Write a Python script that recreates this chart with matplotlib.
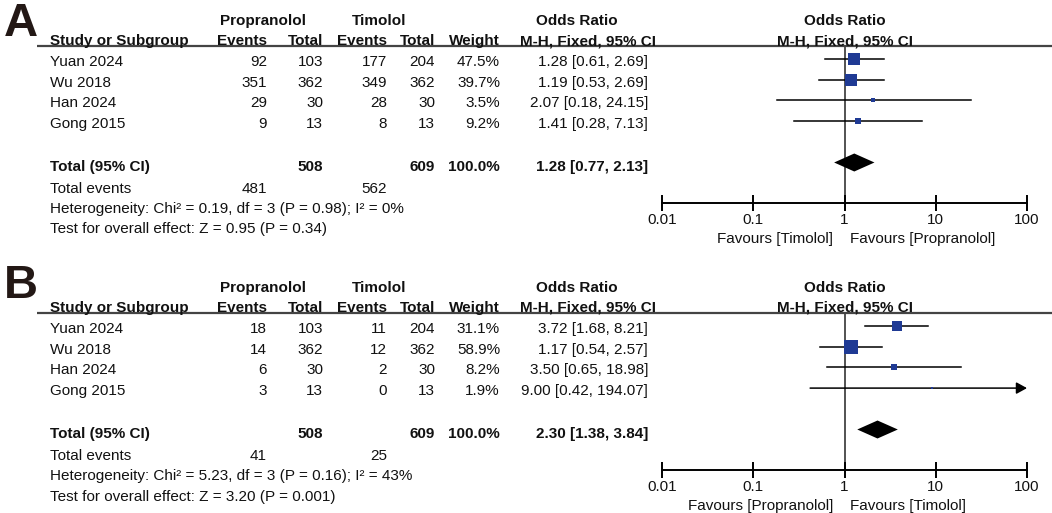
import numpy as np
import matplotlib
matplotlib.use("Agg")
from matplotlib import pyplot as plt

plt.rcParams['font.family'] = ['Liberation Sans', 'DejaVu Sans']

# ---- data ----
studies = ['Yuan 2024', 'Wu 2018', 'Han 2024', 'Gong 2015']
prop_total = [103, 362, 30, 13]
tim_total = [204, 362, 30, 13]

# panel A
a_prop_events = [92, 351, 29, 9]
a_tim_events = [177, 349, 28, 8]
a_weight = [47.5, 39.7, 3.5, 9.2]
a_or = [1.28, 1.19, 2.07, 1.41]
a_lo = [0.61, 0.53, 0.18, 0.28]
a_hi = [2.69, 2.69, 24.15, 7.13]
a_total = (1.28, 0.77, 2.13)
a_total_weight = 100.0
a_events = (481, 562)
a_het = 'Heterogeneity: Chi² = 0.19, df = 3 (P = 0.98); I² = 0%'
a_test = 'Test for overall effect: Z = 0.95 (P = 0.34)'
a_favours = ('Favours [Timolol]', 'Favours [Propranolol]')

# panel B
b_prop_events = [18, 14, 6, 3]
b_tim_events = [11, 12, 2, 0]
b_weight = [31.1, 58.9, 8.2, 1.9]
b_or = [3.72, 1.17, 3.50, 9.00]
b_lo = [1.68, 0.54, 0.65, 0.42]
b_hi = [8.21, 2.57, 18.98, 194.07]
b_total = (2.30, 1.38, 3.84)
b_total_weight = 100.0
b_events = (41, 25)
b_het = 'Heterogeneity: Chi² = 5.23, df = 3 (P = 0.16); I² = 43%'
b_test = 'Test for overall effect: Z = 3.20 (P = 0.001)'
b_favours = ('Favours [Propranolol]', 'Favours [Timolol]')

tick_vals = [0.01, 0.1, 1, 10, 100]
tick_labels = ['0.01', '0.1', '1', '10', '100']

W, H = 1052, 513
TXT = '#111111'
BLUE = '#1f3a94'
FS = 11

fig = plt.figure(figsize=(W / 100, H / 100), dpi=100)
bg = fig.add_axes([0, 0, 1, 1])
bg.set_xlim(0, W)
bg.set_ylim(H, 0)
bg.axis('off')

ROW0 = 59      # first study row (pixels from panel top)
STEP = 20.7    # row spacing
HEAD = 46      # header rule
AXIS = 203     # x axis of forest plot
X_L, X_R = 662, 1027


def txt(x, y, s, ha='left', bold=False, size=FS):
    bg.text(x, y, s, ha=ha, va='baseline', fontsize=size, color=TXT,
            fontweight='bold' if bold else 'normal')


def panel(off, letter, letter_y, pe, te, wt, orr, lo, hi, tot, tot_w, events, het, test, fav):
    # panel letter
    bg.text(4, letter_y, letter, ha='left', va='baseline', fontsize=34,
            fontweight='bold', color='#231815')

    # header
    txt(263, off + 25, 'Propranolol', 'center', True)
    txt(379, off + 25, 'Timolol', 'center', True)
    txt(577, off + 25, 'Odds Ratio', 'center', True)
    txt(845, off + 25, 'Odds Ratio', 'center', True)
    txt(50, off + 45, 'Study or Subgroup', 'left', True)
    txt(267, off + 45, 'Events', 'right', True)
    txt(323, off + 45, 'Total', 'right', True)
    txt(387, off + 45, 'Events', 'right', True)
    txt(435, off + 45, 'Total', 'right', True)
    txt(500, off + 45, 'Weight', 'right', True)
    txt(588, off + 45, 'M-H, Fixed, 95% CI', 'center', True)
    txt(845, off + 45, 'M-H, Fixed, 95% CI', 'center', True)
    bg.plot([37, W], [off + HEAD, off + HEAD], color='#444444', lw=1.6,
            solid_capstyle='butt')

    # study rows
    for i, name in enumerate(studies):
        yb = off + ROW0 + STEP * i + 7
        txt(50, yb, name)
        txt(267, yb, str(pe[i]), 'right')
        txt(323, yb, str(prop_total[i]), 'right')
        txt(387, yb, str(te[i]), 'right')
        txt(435, yb, str(tim_total[i]), 'right')
        txt(500, yb, '%.1f%%' % wt[i], 'right')
        txt(648, yb, '%.2f [%.2f, %.2f]' % (orr[i], lo[i], hi[i]), 'right')

    # total rows
    yb = off + ROW0 + STEP * 5 + 8.5
    txt(50, yb, 'Total (95% CI)', bold=True)
    txt(323, yb, str(sum(prop_total)), 'right', True)
    txt(435, yb, str(sum(tim_total)), 'right', True)
    txt(500, yb, '%.1f%%' % tot_w, 'right', True)
    txt(648, yb, '%.2f [%.2f, %.2f]' % tot, 'right', True)
    txt(50, off + 193, 'Total events')
    txt(267, off + 193, str(events[0]), 'right')
    txt(387, off + 193, str(events[1]), 'right')
    txt(50, off + 213, het)
    txt(50, off + 233.5, test)
    txt(833, off + 243, fav[0], 'right')
    txt(850, off + 243, fav[1], 'left')

    # forest axes, rows in units of STEP
    ax = fig.add_axes([X_L / W, 1 - (off + AXIS) / H, (X_R - X_L) / W, (AXIS - HEAD) / H])
    ax.patch.set_alpha(0)
    ax.set_xscale('log')
    ax.set_xlim(tick_vals[0], tick_vals[-1])
    ax.set_ylim((AXIS - ROW0) / STEP, (HEAD - ROW0) / STEP)
    for s in ['top', 'left', 'right']:
        ax.spines[s].set_visible(False)
    ax.spines['bottom'].set_linewidth(1.4)
    ax.spines['bottom'].set_color('black')
    ax.set_yticks([])
    ax.set_xticks(tick_vals)
    ax.set_xticklabels(tick_labels)
    ax.xaxis.set_minor_locator(matplotlib.ticker.NullLocator())
    ax.tick_params(axis='x', direction='inout', length=11, width=1.4, pad=2,
                   labelsize=FS, labelcolor=TXT)
    ax.axvline(1, color='#444444', lw=1.3, zorder=1)

    xmax = tick_vals[-1]
    for i in range(len(studies)):
        if hi[i] > xmax:
            # CI runs off the scale: arrow ending at the axis limit
            ax.annotate('', xy=(xmax, i), xytext=(lo[i], i), annotation_clip=False,
                        arrowprops=dict(arrowstyle='-|>,head_length=0.4,head_width=0.22',
                                        color='black', lw=1.1,
                                        mutation_scale=16, shrinkA=0, shrinkB=0),
                        zorder=2)
        else:
            ax.plot([lo[i], hi[i]], [i, i], color='black', lw=1.1, zorder=2)
        ms = 1.85 * np.sqrt(wt[i]) * 0.72
        ax.plot([orr[i]], [i], marker='s', color=BLUE, markersize=ms,
                markeredgewidth=0, zorder=4)

    est, tlo, thi = tot
    h = 9 / STEP
    ax.fill([tlo, est, thi, est], [5, 5 - h, 5, 5 + h], color='black', lw=0, zorder=4)


panel(0, 'A', 36, a_prop_events, a_tim_events, a_weight, a_or, a_lo, a_hi,
      a_total, a_total_weight, a_events, a_het, a_test, a_favours)
panel(267, 'B', 298, b_prop_events, b_tim_events, b_weight, b_or, b_lo, b_hi,
      b_total, b_total_weight, b_events, b_het, b_test, b_favours)

fig.savefig('out.png', dpi=100)
